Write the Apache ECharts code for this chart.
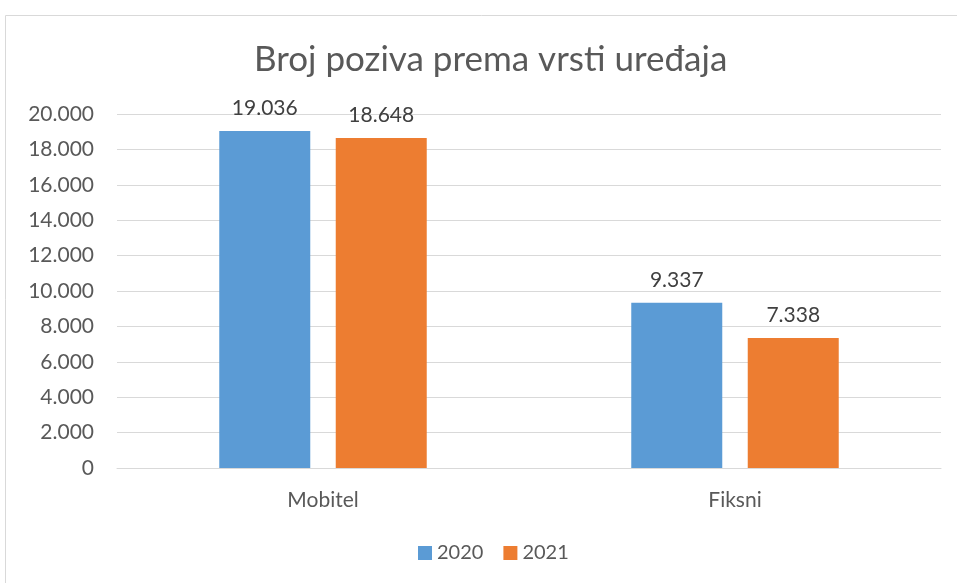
<!DOCTYPE html>
<html>
<head>
<meta charset="utf-8">
<script src="https://cdn.jsdelivr.net/npm/echarts@6/dist/echarts.min.js"></script>
<style>
  html, body { margin: 0; padding: 0; background: #fff; }
  #chart { width: 957px; height: 583px; }
</style>
</head>
<body>
<div id="chart"></div>
<script>
const categories = ['Mobitel', 'Fiksni'];
const years = ['2020', '2021'];
const values2020 = [19036, 9337];
const values2021 = [18648, 7338];
const colors = ['#5b9bd5', '#ed7d31'];

const font = 'Lato, "Open Sans", sans-serif';
const fmt = v => String(v).replace(/\B(?=(\d{3})+(?!\d))/g, '.');

const chart = echarts.init(document.getElementById('chart'));
chart.setOption({
    animation: false,
    textStyle: { fontFamily: font, color: '#595959' },
    title: {
        text: 'Broj poziva prema vrsti uređaja',
        left: 254,
        top: 42,
        padding: 0,
        textStyle: { fontFamily: font, fontSize: 35, fontWeight: 'normal', color: '#595959' }
    },
    graphic: [{
        type: 'rect',
        shape: { x: 5.5, y: 15.5, width: 1000, height: 1000 },
        style: { fill: 'none', stroke: '#d9d9d9', lineWidth: 1 },
        silent: true,
        z: -1
    }],
    legend: {
        bottom: 15,
        left: 413,
        itemWidth: 14,
        itemHeight: 14,
        itemGap: 20,
        icon: 'rect',
        textStyle: { fontFamily: font, fontSize: 20, color: '#595959' },
        data: years
    },
    grid: { left: 117, right: 16, top: 114, bottom: 115, containLabel: false },
    xAxis: {
        type: 'category',
        data: categories,
        axisTick: { show: false },
        axisLine: { lineStyle: { color: '#d9d9d9' } },
        axisLabel: { fontFamily: font, fontSize: 21, color: '#595959', margin: 22 }
    },
    yAxis: {
        type: 'value',
        min: 0,
        max: 20000,
        interval: 2000,
        axisLine: { show: false },
        axisTick: { show: false },
        splitLine: { lineStyle: { color: '#d9d9d9' } },
        axisLabel: { fontFamily: font, fontSize: 21, color: '#595959', margin: 23, formatter: fmt }
    },
    series: [values2020, values2021].map((vals, i) => ({
        name: years[i],
        type: 'bar',
        data: vals,
        barWidth: 91,
        barGap: '28%',
        itemStyle: { color: colors[i] },
        label: {
            show: true,
            position: 'top',
            distance: 12,
            fontFamily: font,
            fontSize: 21,
            color: '#404040',
            formatter: p => fmt(p.value)
        }
    }))
});
</script>
</body>
</html>
